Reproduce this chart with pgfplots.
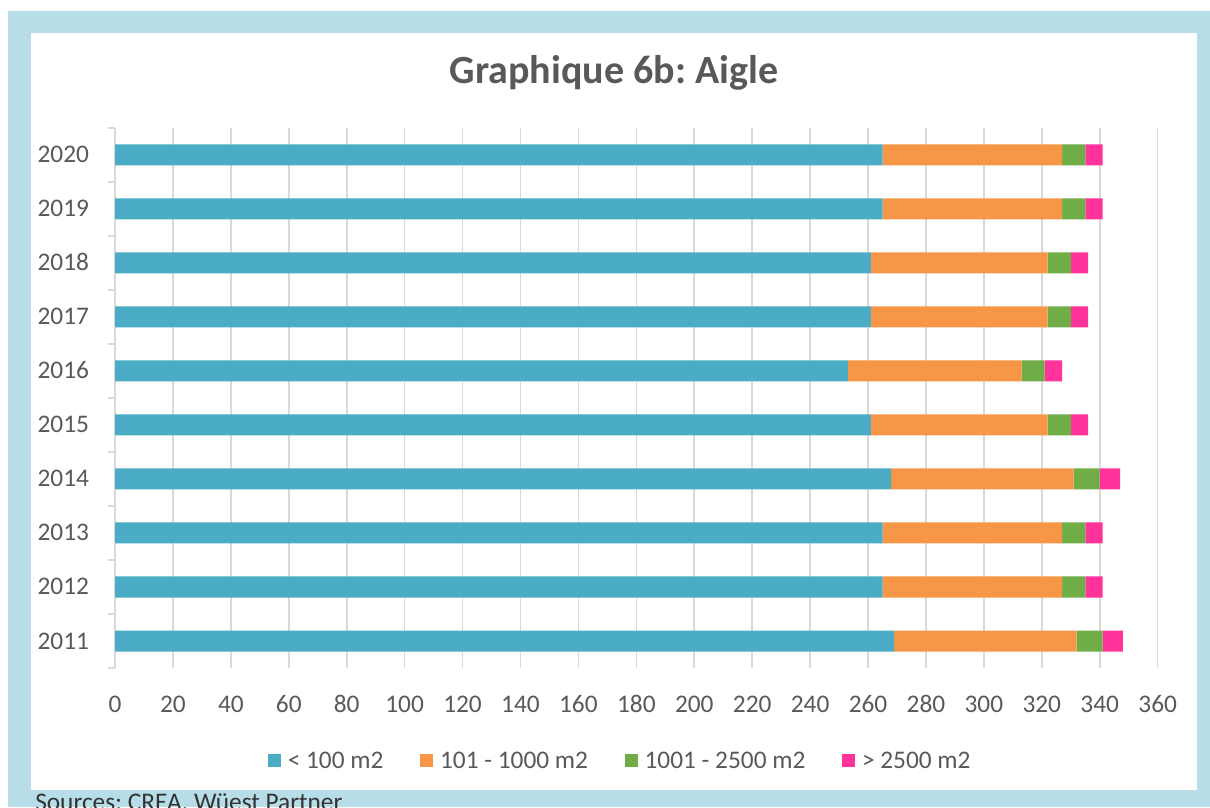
\documentclass[border=0pt]{standalone}
\usepackage{fontspec}
\setmainfont{Carlito}
\usepackage{pgfplots}
\pgfplotsset{compat=1.18}
\definecolor{frame}{HTML}{B7DDE8}
\definecolor{c1}{HTML}{4BACC6}
\definecolor{c2}{HTML}{F79646}
\definecolor{c3}{HTML}{70AD47}
\definecolor{c4}{HTML}{FF3399}
\definecolor{gridc}{HTML}{D9D9D9}
\definecolor{txt}{HTML}{595959}
\pgfplotsset{sq/.style={legend image code/.code={\fill[##1] (0pt,-4.875pt) rectangle (9.75pt,4.875pt);\path (13pt,0pt);}}}
\frenchspacing
\begin{document}
\frenchspacing
\begin{tikzpicture}
\path[use as bounding box] (0,0) rectangle (907.5pt,605.25pt);
\fill[frame] (6pt,0) rectangle (907.5pt,597pt);
\fill[white] (23.25pt,12.75pt) rectangle (897.75pt,580.5pt);
\node[anchor=base west, font=\fontsize{19}{23}\selectfont, text=black!80, inner sep=0] at (26.25pt,-2.5pt) {Sources: CREA, Wüest Partner};
\node[anchor=base, font=\fontsize{30}{36}\selectfont\bfseries, text=txt, inner sep=0] at (460.5pt,542.5pt) {Graphique 6b: Aigle};
\begin{axis}[
  at={(86.25pt,104.25pt)}, anchor=south west,
  scale only axis, width=782pt, height=405pt,
  xbar stacked, bar width=15.75pt,
  xmin=0, xmax=360, ymin=-0.5, ymax=9.5,
  xtick={0,20,...,360},
  ytick={0,...,9},
  yticklabels={2011,2012,2013,2014,2015,2016,2017,2018,2019,2020},
  minor ytick={-0.5,0.5,...,9.5},
  axis lines*=left,
  axis line style={-, draw=gridc, line width=1.2pt},
  x axis line style={draw=none},
  xmajorgrids,
  grid style={draw=gridc, line width=1.2pt},
  major tick length=0pt,
  minor tick length=5.5pt,
  tick align=outside,
  minor y tick style={draw=gridc, line width=1.2pt},
  major x tick style={draw=none},
  major y tick style={draw=none},
  /pgf/number format/assume math mode=true,
  tick label style={font=\fontsize{19}{23}\selectfont, text=txt, text height=12pt, text depth=0pt},
  xticklabel style={yshift=-18pt},
  yticklabel style={xshift=-16pt},
  legend columns=4,
  legend style={at={(0.4848,-0.1722)}, anchor=center, draw=none, fill=none,
    font=\fontsize{19}{23}\selectfont, text=txt,
    /tikz/every even column/.append style={column sep=25.5pt}},
]
\addplot[sq, fill=c1, draw=none] coordinates {(269,0) (265,1) (265,2) (268,3) (261,4) (253,5) (261,6) (261,7) (265,8) (265,9)};
\addlegendentry{< 100 m2}
\addplot[sq, fill=c2, draw=none] coordinates {(63,0) (62,1) (62,2) (63,3) (61,4) (60,5) (61,6) (61,7) (62,8) (62,9)};
\addlegendentry{101 - 1000 m2}
\addplot[sq, fill=c3, draw=none] coordinates {(9,0) (8,1) (8,2) (9,3) (8,4) (8,5) (8,6) (8,7) (8,8) (8,9)};
\addlegendentry{1001 - 2500 m2}
\addplot[sq, fill=c4, draw=none] coordinates {(7,0) (6,1) (6,2) (7,3) (6,4) (6,5) (6,6) (6,7) (6,8) (6,9)};
\addlegendentry{> 2500 m2}
\end{axis}
\end{tikzpicture}
\end{document}
